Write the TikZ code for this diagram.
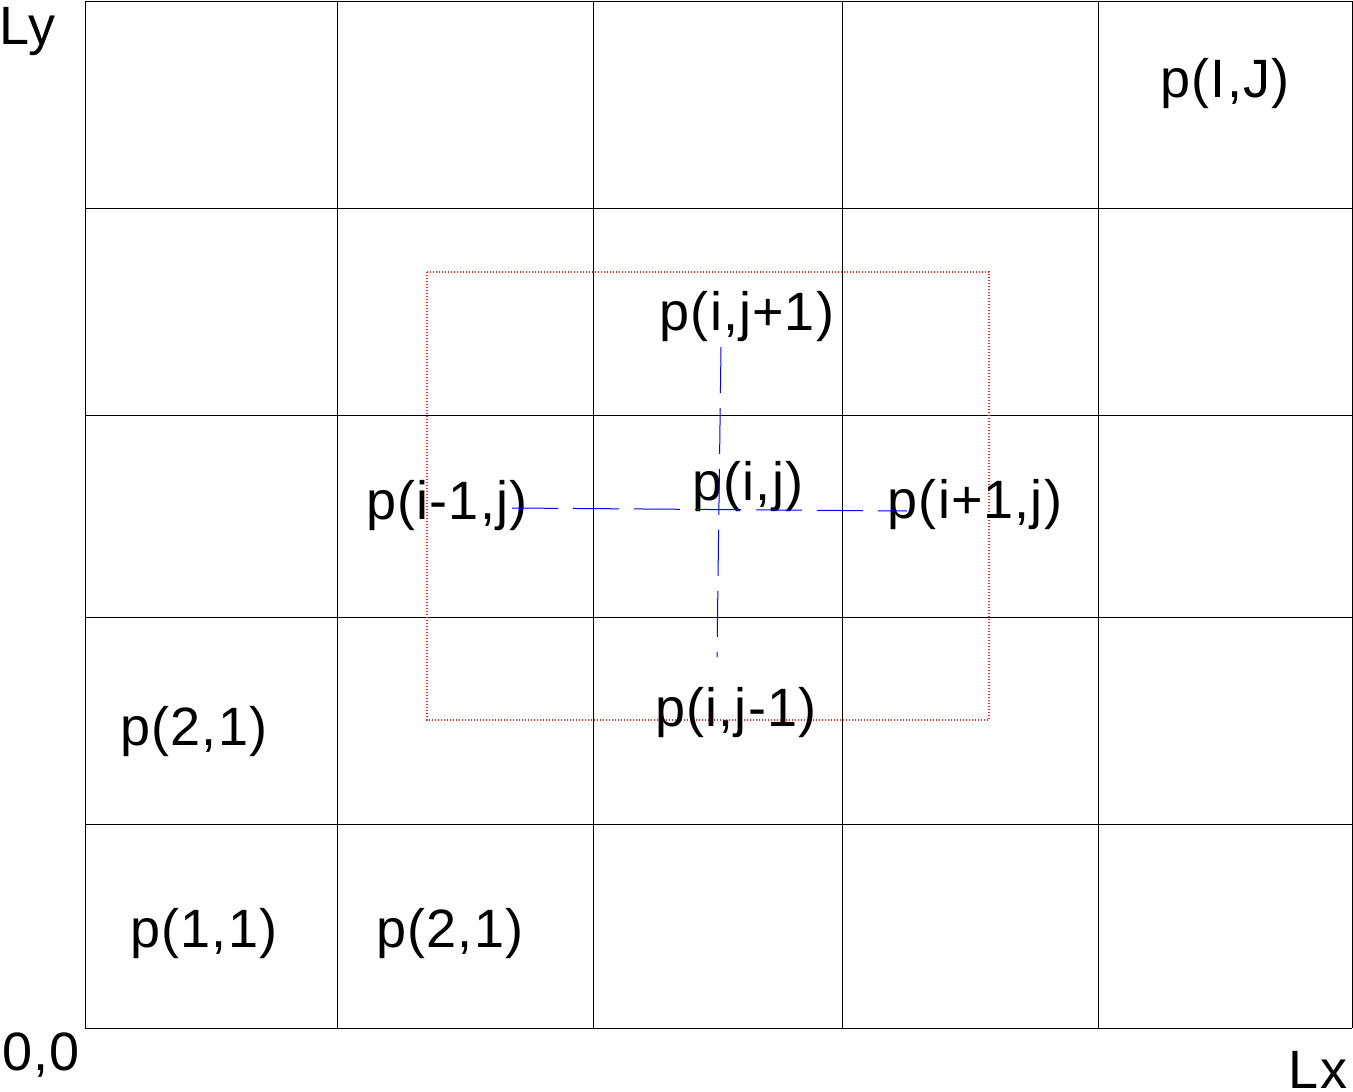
\documentclass[tikz,border=0pt]{standalone}
\usepackage{fontspec}
\setmainfont[LetterSpace=2]{Liberation Sans}
\begin{document}
\begin{tikzpicture}[x=1pt,y=-1pt,
  gridline/.style={draw=black,line width=0.9pt},
  lbl/.style={inner sep=0pt,anchor=base,font=\fontsize{54}{60}\selectfont},
  stencil/.style={draw={rgb,255:red,255;green,30;blue,30},line width=1.4pt,dash pattern=on 1.2pt off 1.8pt},
  link/.style={draw=blue,line width=1pt,dash pattern=on 46pt off 15pt}]
\useasboundingbox (0,0) rectangle (1353,1092);
% grid
\foreach \x in {85,337,593,842,1098,1352} \draw[gridline] (\x,1) -- (\x,1028);
\foreach \y in {1,208,415,617,824,1028} \draw[gridline] (85,\y) -- (1352,\y);
% red stencil box
\draw[stencil] (427,272) rectangle (989,720);
% labels
\node[lbl,anchor=base west] (ly) at (-1,45) {Ly};
\node[lbl] (lx) at (1318,1088) {Lx};
\node[lbl] (orig) at (41,1070) {0,0};
\node[lbl] (pIJ) at (1225,97) {p(I,J)};
\node[lbl] (pup) at (747,330) {p(i,j+1)};
\node[lbl] (pc) at (748,500) {p(i,j)};
\node[lbl] (pl) at (447,519) {p(i-1,j)};
\node[lbl] (pr) at (975,518) {p(i+1,j)};
\node[lbl] (pdn) at (736,726) {p(i,j-1)};
\node[lbl] (p21a) at (194,745) {p(2,1)};
\node[lbl] (p11) at (204,947) {p(1,1)};
\node[lbl] (p21b) at (450,947) {p(2,1)};
% stencil connectors
\coordinate (hl) at (512,508);
\coordinate (hr) at (907,511);
\coordinate (vt) at (721,347);
\coordinate (vb) at (717,657);
\draw[link] (hl) -- (hr);
\draw[link] (vt) -- (vb);
\end{tikzpicture}
\end{document}
